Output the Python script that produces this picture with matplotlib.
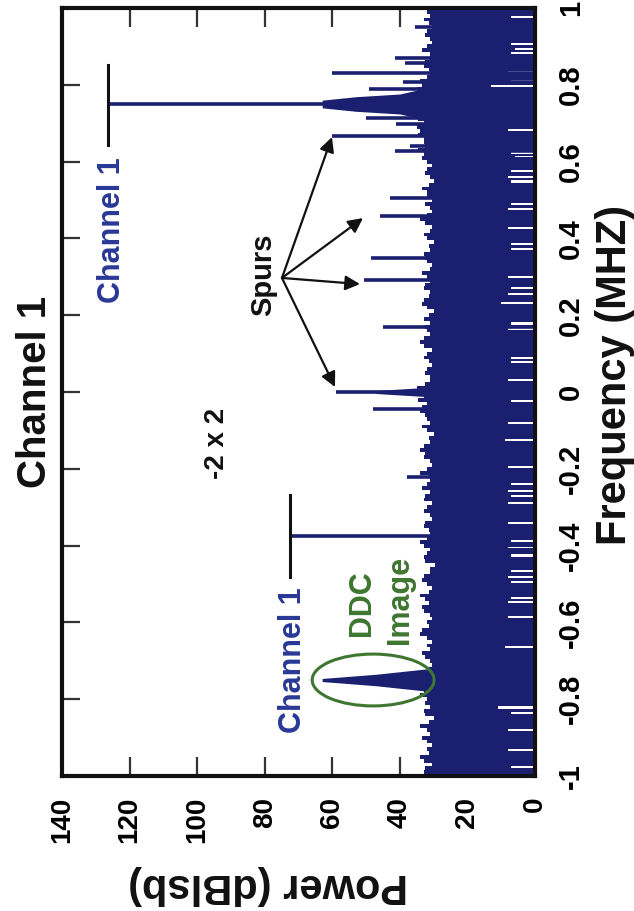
import matplotlib
matplotlib.use('Agg')
import matplotlib.pyplot as plt
from matplotlib.patches import Ellipse
import numpy as np

plt.rcParams['font.family'] = ['Liberation Sans', 'DejaVu Sans']

# ---------------- data ----------------
title = 'Channel 1'
xlabel = 'Power (dBlsb)'
ylabel = 'Frequency (MHZ)'
power_ticks = [0, 20, 40, 60, 80, 100, 120, 140]
power_ticklabels = ['0', '20', '40', '60', '80', '100', '120', '140']
freq_ticks = [-1, -0.8, -0.6, -0.4, -0.2, 0, 0.2, 0.4, 0.6, 0.8, 1]
freq_ticklabels = ['-1', '-0.8', '-0.6', '-0.4', '-0.2', '0', '0.2', '0.4', '0.6', '0.8', '1']

# noise floor upper edge, frequency grid -1 .. 1 step 0.01 MHz
noise_freq = np.round(np.arange(-1.0, 1.0001, 0.01), 2)
noise_top = [31, 33, 32.5, 30.5, 33, 34, 31.5, 32, 30.5, 32,
             33.5, 31, 32, 34, 31.5, 30, 32.5, 33, 31, 32.5,
             32, 34, 33, 31.5, 32.5, 33.5, 33, 31, 32, 30.5,
             31, 32.5, 33.5, 31, 32, 30.5, 32, 34, 33.5, 31.5,
             32, 30.5, 31, 33, 33.5, 31.5, 32.5, 34, 31.5, 30.5,
             32, 33.5, 33, 31, 31, 29.5, 32.5, 33, 32, 31,
             33, 34, 32, 31, 31.5, 33, 32.5, 30.5, 31, 33,
             32, 30.5, 33, 32.5, 31, 33.5, 32, 31, 31.5, 34,
             32, 30.5, 31, 33, 32.5, 34, 33, 31, 31.5, 30,
             32, 33.5, 31, 32, 32.5, 34, 33.5, 32, 34.5, 33,
             34, 35, 32.5, 31, 31, 32.5, 32, 30.5, 31.5, 33,
             32, 30.5, 33, 34, 33, 31, 32, 32.5, 31, 33,
             31.5, 30, 32, 33.5, 33, 31.5, 31, 33, 32.5, 31,
             32, 33.5, 31, 30.5, 32, 32.5, 33, 31, 31.5, 30,
             32, 33, 31, 30.5, 32.5, 34, 32, 30.5, 31, 32.5,
             30.5, 32, 32, 33.5, 31.5, 30, 31, 32.5, 32, 30.5,
             32, 33.5, 33, 34.5, 32.5, 33, 33, 34.5, 34, 35,
             33, 34.5, 33.5, 35, 34, 35.5, 34.5, 33.5, 34, 35,
             33.5, 34, 32, 31, 31.5, 33, 32.5, 31, 31, 33.5,
             32, 30.5, 31, 32.5, 32, 30.5, 31.5, 33, 31, 32,
             31]

# gaps at the bottom of the noise floor (centre freq, width, level dB)
dip_freq = [0.977, 0.951, 0.906, 0.893, 0.884, 0.857, 0.833, 0.810, 0.796, 0.727, 0.682,
            0.622, 0.613, 0.575, 0.561, 0.548, 0.490, 0.477, 0.427, 0.386, 0.372, 0.349,
            0.300, 0.271, 0.256, 0.231, 0.178, 0.163, 0.089, 0.078, 0.031,
            -0.024, -0.044, -0.081, -0.125, -0.195, -0.240, -0.258, -0.271, -0.289,
            -0.341, -0.388, -0.405, -0.426, -0.466, -0.482, -0.495, -0.536, -0.547,
            -0.586, -0.664, -0.724, -0.760, -0.774, -0.822, -0.835, -0.880, -0.932, -0.977]
dip_width = [0.005, 0.005, 0.006, 0.004, 0.005, 0.006, 0.005, 0.006, 0.005, 0.005, 0.006,
             0.005, 0.004, 0.006, 0.005, 0.006, 0.006, 0.005, 0.005, 0.006, 0.005, 0.005,
             0.006, 0.006, 0.005, 0.005, 0.006, 0.005, 0.005, 0.005, 0.005,
             0.006, 0.005, 0.005, 0.005, 0.005, 0.006, 0.005, 0.006, 0.005,
             0.005, 0.006, 0.005, 0.006, 0.006, 0.005, 0.006, 0.006, 0.005,
             0.005, 0.005, 0.005, 0.006, 0.005, 0.006, 0.005, 0.005, 0.005, 0.005]
dip_level = [7, 7, 7, 6, 7, 7, 8, 7, 13, 8, 8,
             7, 6, 7, 8, 7, 7, 8, 8, 7, 7, 9,
             8, 7, 8, 10, 7, 8, 7, 7, 8,
             7, 8, 8, 9, 8, 7, 8, 7, 8,
             8, 7, 8, 7, 7, 8, 7, 7, 8,
             8, 9, 11, 7, 8, 11, 7, 8, 8, 7]

# spurs (frequency MHz, peak dBlsb)
spur_freq = [0.951, 0.870, 0.857, 0.830, 0.807, 0.789, 0.713, 0.698, 0.667, 0.640,
             0.628, 0.505, 0.458, 0.349, 0.292, 0.170, 0.000, -0.044, -0.221]
spur_power = [35.5, 41.5, 38.5, 60, 39, 49, 50, 41, 60, 37,
              41.5, 43, 46, 48.5, 50.5, 45, 59, 48, 38]

# main tones
tone_freq = [0.75, -0.375]
tone_power = [126.3, 72.5]

# tone / image skirts (offset MHz, level dB)
main_center = 0.75
main_df = [-0.040, -0.026, -0.019, -0.010, 0.010, 0.019, 0.026, 0.040]
main_p = [33, 40, 53, 63, 63, 53, 40, 33]
ddc_center = -0.75
ddc_df = [-0.030, -0.015, -0.004, 0.004, 0.015, 0.030]
ddc_p = [31, 47, 63, 63, 47, 31]
zero_center = 0.0
zero_df = [-0.012, -0.004, 0.004, 0.012]
zero_p = [32, 47, 47, 32]

NAVY = '#1b1f70'
BLUE = '#2a3896'
GREEN = '#3e7630'
BLACK = '#111111'

# ---------------- figure ----------------
W, H = 634, 911
fig = plt.figure(figsize=(W / 100, H / 100), dpi=100)
ax = fig.add_axes([62 / W, 1 - 776 / H, (535 - 62) / W, (776 - 8) / H])
ax.set_xlim(140, 0)
ax.set_ylim(-1, 1)

ax.fill_betweenx(noise_freq, 0, noise_top, step='mid', color=NAVY, lw=0, zorder=2)
ax.barh(dip_freq, dip_level, height=dip_width, left=0, color='white', lw=0, zorder=2.5)
ax.hlines(spur_freq, 0, spur_power, color=NAVY, lw=2.6, zorder=3)
ax.hlines(tone_freq, 0, tone_power, color=NAVY, lw=2.6, zorder=3)
for c, df, p in [(main_center, main_df, main_p), (ddc_center, ddc_df, ddc_p),
                 (zero_center, zero_df, zero_p)]:
    ax.fill_betweenx(np.array(df) + c, 0, p, color=NAVY, lw=0, zorder=3)

# axes styling
for s in ax.spines.values():
    s.set_linewidth(3)
    s.set_color(BLACK)
    s.set_zorder(5)
ax.set_xticks(power_ticks)
ax.set_xticklabels(power_ticklabels, fontsize=20, fontweight='bold', rotation=90)
ax.set_yticks(freq_ticks)
ax.set_yticklabels(freq_ticklabels, fontsize=21, fontweight='bold', rotation=90, va='center')
ax.tick_params(axis='x', bottom=True, top=True, direction='in', length=14, width=1.6,
               pad=15, color='#333333')
ax.tick_params(axis='y', left=True, right=True, labelleft=False, labelright=True,
               direction='in', length=13, width=1.6, pad=16, color='#333333')

def P(x, y):
    return (x / W, 1 - y / H)

fig.text(*P(35, 392), title, rotation=90, fontsize=29, fontweight='bold',
         ha='center', va='center', color=BLACK)
fig.text(*P(268, 885), xlabel, rotation=180, fontsize=30, fontweight='bold',
         ha='center', va='center', color=BLACK)
fig.text(*P(615, 375), ylabel, rotation=90, fontsize=30, fontweight='bold',
         ha='center', va='center', color=BLACK)

# annotations (data coords: x = power, y = frequency)
ax.plot([tone_power[0], tone_power[0]], [0.643, 0.852], color=BLACK, lw=2.2, zorder=4)
ax.plot([tone_power[1], tone_power[1]], [-0.482, -0.268], color=BLACK, lw=2.2, zorder=4)
ax.text(125.1, 0.422, 'Channel 1', rotation=90, fontsize=22, fontweight='bold',
        color=BLUE, ha='center', va='center')
ax.text(71.6, -0.698, 'Channel 1', rotation=90, fontsize=22, fontweight='bold',
        color=BLUE, ha='center', va='center')
ax.text(51.2, -0.549, 'DDC', rotation=90, fontsize=22, fontweight='bold',
        color=GREEN, ha='center', va='center')
ax.text(39.9, -0.542, 'Image', rotation=90, fontsize=22, fontweight='bold',
        color=GREEN, ha='center', va='center')
ax.add_patch(Ellipse((47.9, -0.75), 36.1, 0.135, fill=False, edgecolor=GREEN,
                     lw=2.2, zorder=4))
ax.text(80.5, 0.305, 'Spurs', rotation=90, fontsize=21, fontweight='bold',
        color=BLACK, ha='center', va='center')
ax.text(94.1, -0.133, '-2 x 2', rotation=90, fontsize=20, fontweight='bold',
        color=BLACK, ha='center', va='center')

origin = (74.9, 0.297)
for tip in [(60.1, 0.664), (50.9, 0.453), (51.8, 0.281), (59.2, 0.013)]:
    ax.annotate('', xy=tip, xytext=origin,
                arrowprops=dict(arrowstyle='-|>', color=BLACK, lw=1.6,
                                mutation_scale=22, shrinkA=0, shrinkB=0),
                zorder=4)

fig.savefig('out.png', dpi=100, facecolor='white')
